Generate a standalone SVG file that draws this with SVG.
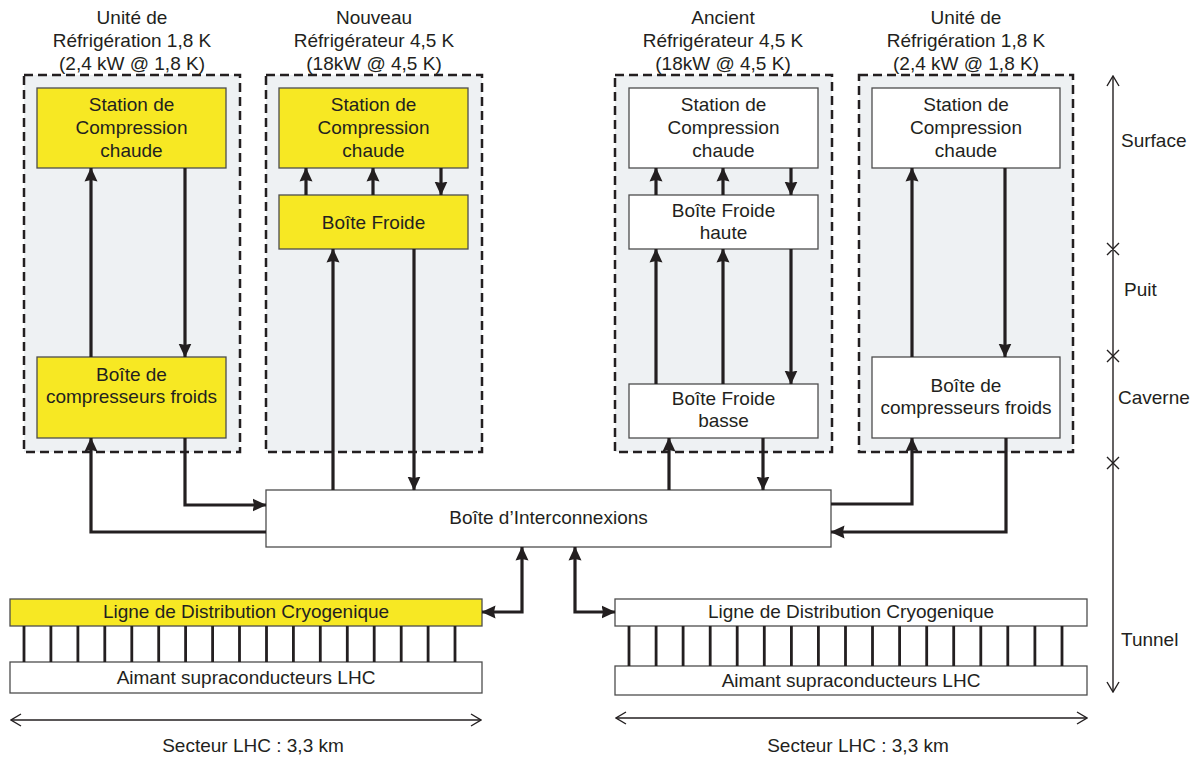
<svg xmlns="http://www.w3.org/2000/svg" width="1200" height="758" viewBox="0 0 1200 758">
<defs>
<style>
text{font-family:"Liberation Sans",Arial,sans-serif;font-size:19px;fill:#231f20;text-anchor:middle}
.grp{fill:#eef1f3;stroke:#231f20;stroke-width:2.5;stroke-dasharray:9 5}
.y{fill:#f7e823;stroke:#4d4d4d;stroke-width:1.3}
.w{fill:#ffffff;stroke:#4d4d4d;stroke-width:1.3}
.c{fill:none;stroke:#231f20;stroke-width:3.2}
.t{fill:none;stroke:#231f20;stroke-width:2.8}
.thin{fill:none;stroke:#231f20;stroke-width:1.4}
.st{text-anchor:start}
</style>
<marker id="ah" viewBox="0 0 14 14" markerWidth="14" markerHeight="14" refX="13.5" refY="7" orient="auto-start-reverse" markerUnits="userSpaceOnUse">
<path d="M0,0.5 L14,7 L0,13.5 L1.5,7 z" fill="#231f20"/>
</marker>
<marker id="oh" viewBox="0 0 12 14" markerWidth="12" markerHeight="14" refX="11" refY="7" orient="auto-start-reverse" markerUnits="userSpaceOnUse">
<path d="M1,1 L11,7 L1,13" fill="none" stroke="#231f20" stroke-width="1.4"/>
</marker>
</defs>
<rect width="1200" height="758" fill="#ffffff"/>

<g id="unit1">
<text x="132" y="24">Unité de</text>
<text x="132" y="47">Réfrigération 1,8 K</text>
<text x="132" y="70">(2,4 kW @ 1,8 K)</text>
<rect class="grp" x="24" y="75" width="216" height="377"/>
</g>
<g id="unit2">
<text x="374" y="24">Nouveau</text>
<text x="374" y="47">Réfrigérateur 4,5 K</text>
<text x="374" y="70">(18kW @ 4,5 K)</text>
<rect class="grp" x="266" y="75" width="216" height="377"/>
</g>
<g id="unit3">
<text x="723" y="24">Ancient</text>
<text x="723" y="47">Réfrigérateur 4,5 K</text>
<text x="723" y="70">(18kW @ 4,5 K)</text>
<rect class="grp" x="615" y="75" width="217" height="377"/>
</g>
<g id="unit4">
<text x="966" y="24">Unité de</text>
<text x="966" y="47">Réfrigération 1,8 K</text>
<text x="966" y="70">(2,4 kW @ 1,8 K)</text>
<rect class="grp" x="859" y="75" width="214" height="377"/>
</g>

<g id="station1"><rect class="y" x="37" y="88" width="189" height="80"/>
<text x="131.5" y="111">Station de</text><text x="131.5" y="134">Compression</text><text x="131.5" y="157">chaude</text></g>
<g id="station2"><rect class="y" x="279" y="88" width="189" height="80"/>
<text x="373.5" y="111">Station de</text><text x="373.5" y="134">Compression</text><text x="373.5" y="157">chaude</text></g>
<g id="station3"><rect class="w" x="629" y="88" width="189" height="80"/>
<text x="723.5" y="111">Station de</text><text x="723.5" y="134">Compression</text><text x="723.5" y="157">chaude</text></g>
<g id="station4"><rect class="w" x="872" y="88" width="188" height="80"/>
<text x="966" y="111">Station de</text><text x="966" y="134">Compression</text><text x="966" y="157">chaude</text></g>

<g id="compfroid1"><rect class="y" x="37" y="357" width="189" height="81"/>
<text x="131.5" y="381">Boîte de</text><text x="131.5" y="403">compresseurs froids</text></g>
<g id="boitefroide2"><rect class="y" x="279" y="195" width="189" height="54"/>
<text x="373.5" y="229">Boîte Froide</text></g>
<g id="boitehaute3"><rect class="w" x="629" y="195" width="189" height="54"/>
<text x="723.5" y="217">Boîte Froide</text><text x="723.5" y="239">haute</text></g>
<g id="boitebasse3"><rect class="w" x="629" y="384" width="189" height="54"/>
<text x="723.5" y="405">Boîte Froide</text><text x="723.5" y="427">basse</text></g>
<g id="compfroid4"><rect class="w" x="872" y="357" width="188" height="81"/>
<text x="966" y="392">Boîte de</text><text x="966" y="414">compresseurs froids</text></g>

<g id="interconnexion"><rect class="w" x="266" y="490" width="565" height="57"/>
<text x="548.5" y="524">Boîte d’Interconnexions</text></g>

<g id="ldc-left"><rect class="y" x="10" y="599" width="472" height="27"/>
<text x="246" y="618">Ligne de Distribution Cryogenique</text></g>
<g id="aimant-left"><rect class="w" x="10" y="662" width="472" height="31"/>
<text x="246" y="684">Aimant supraconducteurs LHC</text></g>
<g id="ldc-right"><rect class="w" x="615" y="599" width="472" height="27"/>
<text x="851" y="618">Ligne de Distribution Cryogenique</text></g>
<g id="aimant-right"><rect class="w" x="615" y="666" width="472" height="29"/>
<text x="851" y="687">Aimant supraconducteurs LHC</text></g>

<g id="connectors">
<path class="c" d="M91,357 V168" marker-end="url(#ah)"/>
<path class="c" d="M185,168 V357" marker-end="url(#ah)"/>
<path class="c" d="M185,438 V505 H266" marker-end="url(#ah)"/>
<path class="c" d="M266,532 H91 V438" marker-end="url(#ah)"/>
<path class="c" d="M306,195 V168" marker-end="url(#ah)"/>
<path class="c" d="M373,195 V168" marker-end="url(#ah)"/>
<path class="c" d="M441,168 V195" marker-end="url(#ah)"/>
<path class="c" d="M333,490 V249" marker-end="url(#ah)"/>
<path class="c" d="M414,249 V490" marker-end="url(#ah)"/>
<path class="c" d="M656,195 V168" marker-end="url(#ah)"/>
<path class="c" d="M723,195 V168" marker-end="url(#ah)"/>
<path class="c" d="M791,168 V195" marker-end="url(#ah)"/>
<path class="c" d="M656,384 V249" marker-end="url(#ah)"/>
<path class="c" d="M723,384 V249" marker-end="url(#ah)"/>
<path class="c" d="M791,249 V384" marker-end="url(#ah)"/>
<path class="c" d="M669,490 V438" marker-end="url(#ah)"/>
<path class="c" d="M763,438 V490" marker-end="url(#ah)"/>
<path class="c" d="M912,357 V168" marker-end="url(#ah)"/>
<path class="c" d="M1005,168 V357" marker-end="url(#ah)"/>
<path class="c" d="M831,504 H912 V438" marker-end="url(#ah)"/>
<path class="c" d="M1006,438 V532 H831" marker-end="url(#ah)"/>
<path class="c" d="M482,612 H522 V547" marker-start="url(#ah)" marker-end="url(#ah)"/>
<path class="c" d="M575,547 V612 H615" marker-start="url(#ah)" marker-end="url(#ah)"/>
<path class="t" d="M24,626V662M50.9,626V662M77.9,626V662M104.8,626V662M131.8,626V662M158.7,626V662M185.6,626V662M212.6,626V662M239.5,626V662M266.5,626V662M293.4,626V662M320.3,626V662M347.3,626V662M374.2,626V662M401.2,626V662M428.1,626V662M455,626V662"/>
<path class="t" d="M629,626V666M656.1,626V666M683.1,626V666M710.2,626V666M737.2,626V666M764.3,626V666M791.4,626V666M818.4,626V666M845.5,626V666M872.5,626V666M899.6,626V666M926.7,626V666M953.7,626V666M980.8,626V666M1007.8,626V666M1034.9,626V666M1062,626V666"/>
</g>

<g id="sector-left">
<path class="thin" d="M11,720 H481" marker-start="url(#oh)" marker-end="url(#oh)"/>
<text x="253" y="752">Secteur LHC : 3,3 km</text>
</g>
<g id="sector-right">
<path class="thin" d="M616,718 H1087" marker-start="url(#oh)" marker-end="url(#oh)"/>
<text x="858" y="752">Secteur LHC : 3,3 km</text>
</g>

<g id="axis">
<path class="thin" d="M1113,76 V692" marker-start="url(#oh)" marker-end="url(#oh)"/>
<path class="thin" d="M1107,243 L1119,255 M1119,243 L1107,255 M1107,350 L1119,362 M1119,350 L1107,362 M1107,457 L1119,469 M1119,457 L1107,469"/>
<text class="st" x="1121" y="147">Surface</text>
<text class="st" x="1124" y="296">Puit</text>
<text class="st" x="1118" y="404">Caverne</text>
<text class="st" x="1121" y="646">Tunnel</text>
</g>
</svg>
